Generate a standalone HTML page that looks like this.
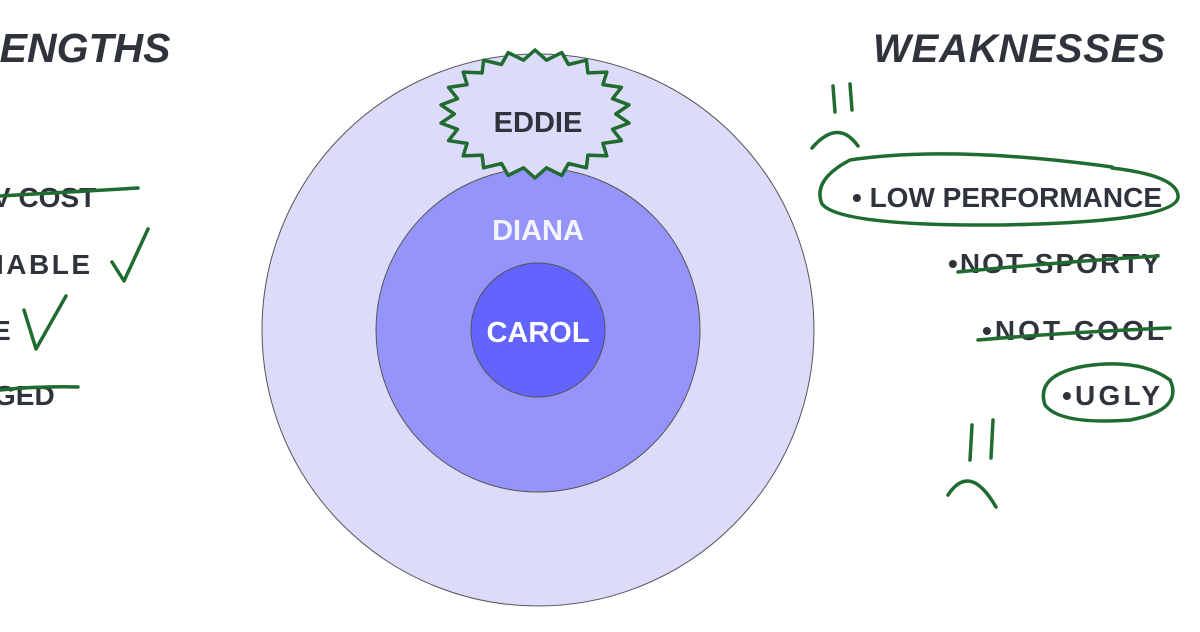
<!DOCTYPE html>
<html><head><meta charset="utf-8"><style>
html,body{margin:0;padding:0;background:#fff;width:1200px;height:632px;overflow:hidden}
svg{display:block}
text{font-family:"Liberation Sans",sans-serif;fill:#2f333b}
</style></head><body>
<svg width="1200" height="632" viewBox="0 0 1200 632" xmlns="http://www.w3.org/2000/svg">
<circle cx="538" cy="330" r="276" fill="#dcdcfa" stroke="#555" stroke-width="1"/>
<circle cx="538" cy="330" r="162" fill="#9494fb" stroke="#555" stroke-width="1"/>
<circle cx="538" cy="330" r="67" fill="#6363fd" stroke="#555" stroke-width="1"/>
<path id="blob" fill="#dcdcfa" stroke="#1f6b30" stroke-width="3.5" stroke-linejoin="round"/>
<text x="538" y="132" text-anchor="middle" font-size="29" font-weight="bold" fill="#2f333b">EDDIE</text>
<text x="538" y="240" text-anchor="middle" font-size="29" font-weight="bold" style="fill:#f4f4ff">DIANA</text>
<text x="538" y="342" text-anchor="middle" font-size="29" font-weight="bold" style="fill:#ffffff">CAROL</text>

<text x="-30" y="62" font-size="41" font-weight="bold" font-style="italic">RENGTHS</text>
<text x="873" y="62" font-size="40" font-weight="bold" font-style="italic" textLength="292">WEAKNESSES</text>

<g font-size="28" font-weight="bold">
<text x="-8" y="207">V COST</text>
<text x="-4" y="274" textLength="94">IABLE</text>
<text x="-8" y="340">E</text>
<text x="-6" y="405">GED</text>
<text x="852" y="207" textLength="310">• LOW PERFORMANCE</text>
<text x="948" y="273" textLength="212">•NOT SPORTY</text>
<text x="982" y="340" textLength="182">•NOT COOL</text>
<text x="1062" y="405" textLength="98">•UGLY</text>
</g>
<g fill="none" stroke="#1f6b30" stroke-width="3.5" stroke-linecap="round" stroke-linejoin="round">
<path d="M0 196 Q70 192 138 188"/>
<path d="M112 262 L124 281 L148 229"/>
<path d="M24 310 L36 349 L66 296"/>
<path d="M0 390 Q40 386 78 387"/>
<path d="M958 272 Q1060 262 1158 256"/>
<path d="M978 340 Q1070 332 1170 328"/>
<path d="M1112 168 Q1180 176 1178 198 Q1172 222 1000 225 Q840 226 822 204 Q812 180 850 160 Q950 145 1112 167"/>
<path d="M1085 366 Q1140 358 1170 380 Q1184 410 1130 420 Q1060 425 1045 405 Q1035 375 1085 366"/>
<path d="M833 86 L835 112 M850 84 L852 110"/>
<path d="M812 148 Q838 118 858 146"/>
<path d="M972 425 L970 460 M993 420 L991 458"/>
<path d="M948 495 Q970 462 996 507"/>
</g>
</svg>
<script>
var cx=535,cy=114,rx=95,ry=64,n=44,d="";
for(var i=0;i<=n;i++){var a=i/n*2*Math.PI,r=(i%2?1.0:0.85);
var x=cx+rx*r*Math.cos(a),y=cy+ry*r*Math.sin(a);d+=(i?"L":"M")+x.toFixed(1)+" "+y.toFixed(1)+" ";}
document.getElementById("blob").setAttribute("d",d+"Z");
</script>
</body></html>
